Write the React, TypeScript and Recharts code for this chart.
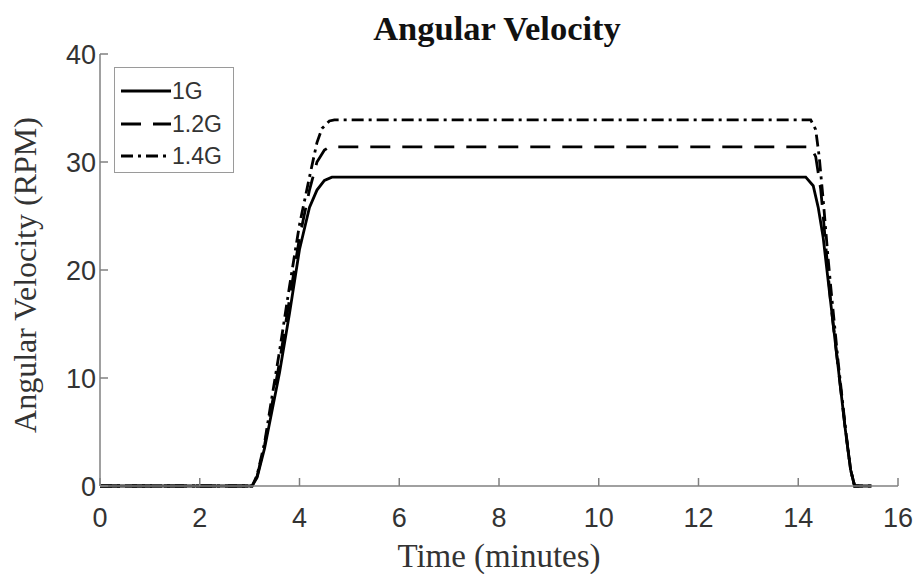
import React from 'react';
import { LineChart, Line, XAxis, YAxis, Customized } from 'recharts';

// Time (minutes) and angular velocity (RPM) for each gravity level
const time1G = [0, 3.05, 3.15, 3.3, 3.45, 3.6, 3.8, 4.0, 4.2, 4.35, 4.5, 4.65, 14.15, 14.3, 14.4, 14.5, 14.65, 14.8, 14.95, 15.05, 15.13, 15.47];
const rpm1G = [0, 0, 0.8, 3.5, 7, 10.5, 16, 21.9, 25.8, 27.4, 28.3, 28.6, 28.6, 27.8, 25.8, 23, 17, 11, 5, 1.5, 0, 0];

const time12G = [0, 3.05, 3.15, 3.3, 3.45, 3.6, 3.8, 4.0, 4.2, 4.35, 4.5, 4.6, 14.25, 14.35, 14.45, 14.5, 14.65, 14.8, 14.95, 15.05, 15.13, 15.47];
const rpm12G = [0, 0, 0.9, 3.8, 7.6, 11.5, 17.3, 23.0, 27.4, 30.0, 31.1, 31.4, 31.4, 30.5, 27.5, 25, 17, 11, 5, 1.5, 0, 0];

const time14G = [0, 3.05, 3.15, 3.3, 3.45, 3.6, 3.8, 4.0, 4.2, 4.35, 4.45, 4.6, 4.7, 14.25, 14.35, 14.42, 14.5, 14.6, 14.65, 14.8, 14.95, 15.05, 15.13, 15.47];
const rpm14G = [0, 0, 1, 4, 8.3, 12.5, 18.5, 24.2, 28.6, 31.8, 33.1, 33.8, 33.9, 33.9, 33, 30.5, 26.5, 21, 18.5, 11.5, 5.2, 1.5, 0, 0];

const xTicks = [0, 2, 4, 6, 8, 10, 12, 14, 16];
const yTicks = [0, 10, 20, 30, 40];

const seriesNames = ['1G', '1.2G', '1.4G'];
const dashes = ['', '20 12', '12 5 3 5'];

const toData = (ts: number[], vs: number[]) => ts.map((t, i) => ({ t, v: vs[i] }));
const data1 = toData(time1G, rpm1G);
const data2 = toData(time12G, rpm12G);
const data3 = toData(time14G, rpm14G);

const AXIS = '#808080';
const TXT = '#333333';

const LegendBox = () => (
  <div
    style={{
      position: 'absolute',
      left: 114,
      top: 67,
      width: 120,
      height: 106,
      border: '1px solid #9a9a9a',
      background: '#fff',
      boxSizing: 'border-box',
    }}
  >
    {seriesNames.map((name, i) => (
      <div
        key={name}
        style={{
          position: 'absolute',
          left: 5,
          top: 10 + i * 32.5,
          height: 26,
          display: 'flex',
          alignItems: 'center',
        }}
      >
        <svg width={52} height={26} style={{ display: 'block' }}>
          <line x1={1} y1={13} x2={51} y2={13} stroke="#000" strokeWidth={2.8} strokeDasharray={dashes[i] || undefined} />
        </svg>
        <span style={{ fontFamily: '"Liberation Sans", Arial, sans-serif', fontSize: 23, color: TXT, lineHeight: '26px' }}>{name}</span>
      </div>
    ))}
  </div>
);

const Title = () => (
  <text x={497} y={40} textAnchor="middle" fontFamily='"Liberation Serif", "Times New Roman", serif' fontWeight="bold" fontSize={34.5} fill="#111">
    Angular Velocity
  </text>
);

const YLabel = () => (
  <text
    x={36}
    y={275}
    transform="rotate(-90 36 275)"
    textAnchor="middle"
    fontFamily='"Liberation Serif", "Times New Roman", serif'
    fontSize={32}
    fill={TXT}
  >
    Angular Velocity (RPM)
  </text>
);

export default function App() {
  return (
    <div style={{ position: 'absolute', left: 0, top: 0, width: 914, height: 574, background: '#fff' }}>
      <LineChart width={914} height={574} margin={{ top: 54, right: 16, bottom: 0, left: 0 }}>
        <XAxis
          type="number"
          dataKey="t"
          domain={[0, 16]}
          ticks={xTicks}
          interval={0}
          height={88}
          stroke={AXIS}
          strokeWidth={1.5}
          tickSize={-8}
          tickMargin={30}
          tick={{ fill: TXT, fontSize: 27, fontFamily: '"Liberation Sans", Arial, sans-serif' }}
          allowDataOverflow
          label={{
            value: 'Time (minutes)',
            position: 'insideBottom',
            offset: 7,
            fill: TXT,
            fontSize: 33,
            fontFamily: '"Liberation Serif", "Times New Roman", serif',
          }}
        />
        <YAxis
          type="number"
          dataKey="v"
          domain={[0, 40]}
          ticks={yTicks}
          interval={0}
          width={100}
          stroke={AXIS}
          strokeWidth={1.5}
          tickSize={-8}
          tickMargin={12}
          tick={{ fill: TXT, fontSize: 27, fontFamily: '"Liberation Sans", Arial, sans-serif' }}
        />
        <Line data={data1} dataKey="v" name="1G" type="linear" stroke="#000" strokeWidth={2.8} dot={false} isAnimationActive={false} />
        <Line data={data2} dataKey="v" name="1.2G" type="linear" stroke="#000" strokeWidth={2.8} strokeDasharray="20 12" dot={false} isAnimationActive={false} />
        <Line data={data3} dataKey="v" name="1.4G" type="linear" stroke="#000" strokeWidth={2.8} strokeDasharray="12 5 3 5" dot={false} isAnimationActive={false} />
        <Customized component={Title} />
        <Customized component={YLabel} />
      </LineChart>
      <LegendBox />
    </div>
  );
}
